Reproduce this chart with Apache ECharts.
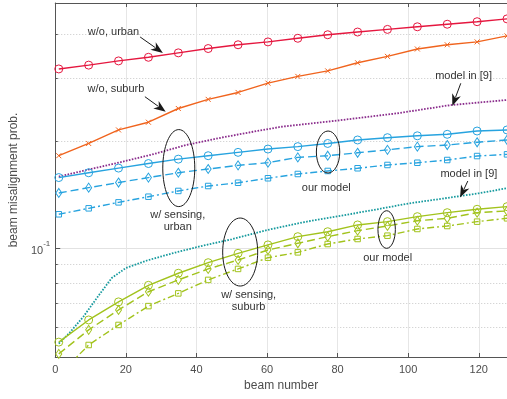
<!DOCTYPE html>
<html><head><meta charset="utf-8">
<script src="https://cdn.jsdelivr.net/npm/echarts@6/dist/echarts.min.js"></script>
<style>html,body{margin:0;padding:0;background:#fff}#c{width:507px;height:399px}</style>
</head><body><div id="c"></div>
<script>
// ---- data ----
const beams = [1, 9.47, 17.93, 26.4, 34.87, 43.33, 51.8, 60.27, 68.73, 77.2, 85.67, 94.13, 102.6, 111.07, 119.53, 128];
const woUrban  = [0.319,0.327,0.336,0.344,0.354,0.364,0.373,0.380,0.389,0.398,0.405,0.412,0.419,0.426,0.433,0.441];
const woSuburb = [0.182,0.197,0.215,0.226,0.247,0.262,0.274,0.291,0.304,0.315,0.332,0.346,0.363,0.373,0.380,0.395];
const ref9UrbanX = [1, 9, 19, 28, 37, 47, 56, 64, 80, 97, 112, 128];
const ref9Urban  = [0.159,0.166,0.175,0.184,0.195,0.2045,0.2125,0.2195,0.2285,0.2395,0.2525,0.261];
const urbanC = [0.158,0.163,0.168,0.173,0.178,0.182,0.186,0.190,0.193,0.197,0.2015,0.2045,0.207,0.209,0.2135,0.215];
const urbanD = [0.143,0.148,0.153,0.158,0.163,0.167,0.171,0.174,0.180,0.182,0.1855,0.189,0.193,0.195,0.1985,0.2015];
const urbanS = [0.1246,0.1295,0.1346,0.1396,0.1449,0.1496,0.1528,0.1573,0.1617,0.1649,0.1678,0.1714,0.1739,0.177,0.1816,0.1836];
const ref9SuburbX = [1,4,8,12,16,20,26,34,42,50,60,70,80,90,100,110,120,128];
const ref9Suburb  = [0.054,0.0578,0.0643,0.073,0.0825,0.088,0.0924,0.0973,0.1018,0.106,0.1125,0.1182,0.123,0.128,0.1336,0.138,0.1427,0.1475];
const suburbC = [0.0545,0.0629,0.0707,0.0787,0.0851,0.0911,0.0968,0.1022,0.1078,0.1113,0.1163,0.1188,0.1227,0.1259,0.1287,0.1309];
const suburbD = [0.0505,0.059,0.0671,0.0755,0.0815,0.0875,0.0927,0.0989,0.1033,0.1078,0.1121,0.1155,0.1195,0.1214,0.1259,0.1273];
const suburbS = [0.044,0.0535,0.0609,0.0688,0.0747,0.0815,0.0875,0.0941,0.0974,0.1028,0.1062,0.1085,0.1133,0.1155,0.1188,0.1214];
const xTicks = [0,20,40,60,80,100,120];
const yMajor = [0.1];
const yMinor = [0.06,0.07,0.08,0.09,0.2,0.3,0.4];
const xLabel = 'beam number';
const yLabel = 'beam misalignment prob.';

const FONT = '"Liberation Sans", Arial, Helvetica, sans-serif';
const AX = '#555';
const RED='#e5173f', ORANGE='#f0641e', PURPLE='#8a2c8c', BLUE='#27a3df', TEAL='#169a9e', GREEN='#a2c31d';
const XSYM = 'path://M0,0L10,10M10,0L0,10';

function mk(xs, ys, color, type, width, symbol, size, z) {
  return {
    type:'line', data: xs.map((x,i)=>[x, ys[i]]), clip:true,
    lineStyle:{color, width, type}, symbol: symbol || 'none', symbolSize: size,
    showSymbol: !!symbol, itemStyle:{color:'rgba(0,0,0,0)', borderColor:color, borderWidth:1},
    emphasis:{disabled:true}, silent:true, animation:false, z: z||2
  };
}

const chart = echarts.init(document.getElementById('c'), null, {renderer:'canvas'});
const yMin = 0.0495, yMax = 0.4887;
chart.setOption({
  backgroundColor:'#fff',
  animation:false,
  grid:{left:52.3, right:-1.5, top:3, bottom:42, containLabel:false},
  xAxis:[{
    type:'value', min:0, max:128, position:'bottom',
    axisLine:{show:true, onZero:false, lineStyle:{color:AX}},
    axisTick:{show:true, inside:true, length:4, customValues:xTicks, lineStyle:{color:AX}},
    axisLabel:{customValues:xTicks, color:'#4d4d4d', fontSize:11, fontFamily:FONT, margin:7},
    splitLine:{show:true, lineStyle:{color:'#e6e6e6', width:1}},
    name:xLabel, nameLocation:'middle', nameGap:20,
    nameTextStyle:{color:'#4d4d4d', fontSize:12, fontFamily:FONT}
  },{
    type:'value', min:0, max:128, position:'top',
    axisLine:{show:true, onZero:false, lineStyle:{color:AX}},
    axisTick:{show:true, inside:true, length:4, customValues:xTicks, lineStyle:{color:AX}},
    axisLabel:{show:false}, splitLine:{show:false}
  }],
  yAxis:[{
    type:'log', logBase:10, min:yMin, max:yMax, position:'left',
    axisLine:{show:true, onZero:false, lineStyle:{color:AX}},
    axisTick:{show:true, inside:true, length:5, customValues:yMajor, lineStyle:{color:AX}},
    axisLabel:{customValues:yMajor, margin:5, formatter:()=>'{a|10}{b|-1}',
      rich:{a:{fontSize:11, fontFamily:FONT, color:'#4d4d4d', lineHeight:16, verticalAlign:'bottom'},
            b:{fontSize:8, fontFamily:FONT, color:'#4d4d4d', verticalAlign:'top'}}},
    splitLine:{show:true, lineStyle:{color:'#e2e2e2', width:1}},
    name:yLabel, nameLocation:'middle', nameGap:26.5,
    nameTextStyle:{color:'#4d4d4d', fontSize:12, fontFamily:FONT}
  },{
    type:'log', logBase:10, min:yMin, max:yMax, position:'left',
    axisLine:{show:false},
    axisTick:{show:true, inside:true, length:2.5, customValues:yMinor, lineStyle:{color:AX}},
    axisLabel:{show:false},
    splitLine:{show:true, lineStyle:{color:'#c8c8c8', width:1, type:[1,2]}}
  }],
  series:[
    mk(beams, woUrban, RED, 'solid', 1.4, 'circle', 8, 5),
    mk(beams, woSuburb, ORANGE, 'solid', 1.4, XSYM, 5, 5),
    mk(ref9UrbanX, ref9Urban, PURPLE, [1.6,1.4], 1.8, null, 0, 4),
    mk(beams, urbanC, BLUE, 'solid', 1.4, 'circle', 8, 5),
    mk(beams, urbanD, BLUE, [8,4], 1.4, 'diamond', [6,9], 5),
    mk(beams, urbanS, BLUE, [7,3,2,3], 1.4, 'rect', 5.5, 5),
    mk(ref9SuburbX, ref9Suburb, TEAL, [1.6,1.4], 1.8, null, 0, 4),
    mk(beams, suburbC, GREEN, 'solid', 1.4, 'circle', 8, 5),
    mk(beams, suburbD, GREEN, [8,4], 1.4, 'diamond', [6,9], 5),
    mk(beams, suburbS, GREEN, [7,3,2,3], 1.4, 'rect', 5.5, 5)
  ]
});

// ---- annotations anchored in data coordinates ----
const annText = [
  {t:'w/o, urban', x:16.5, v:0.406},
  {t:'w/o, suburb', x:17.2, v:0.2797},
  {t:'w/ sensing,\nurban', x:34.7, v:0.1193},
  {t:'our model', x:76.8, v:0.1474},
  {t:'model in [9]', x:115.7, v:0.3048},
  {t:'model in [9]', x:117.2, v:0.1617},
  {t:'w/ sensing,\nsuburb', x:54.8, v:0.0711},
  {t:'our model', x:94.2, v:0.0937}
];
const annEllipse = [
  {x:35.0, v:0.168, rx:16, ry:38.5},
  {x:77.3, v:0.1864, rx:11.7, ry:21},
  {x:52.4, v:0.0976, rx:17.5, ry:34},
  {x:93.9, v:0.1129, rx:8.7, ry:18.8}
];
const annArrow = [
  {x1:24.05, v1:0.3923, x2:30.5, v2:0.3537},
  {x1:25.4, v1:0.2666, x2:31.3, v2:0.2419},
  {x1:114.9, v1:0.2907, x2:112.5, v2:0.2510},
  {x1:116.9, v1:0.1545, x2:114.7, v2:0.139}
];
const px = (x,v)=>chart.convertToPixel({xAxisIndex:0, yAxisIndex:0}, [x,v]);
const g = [];
annEllipse.forEach(e=>{
  const p = px(e.x,e.v);
  g.push({type:'ellipse', shape:{cx:p[0], cy:p[1], rx:e.rx, ry:e.ry}, style:{fill:'none', stroke:'#1a1a1a', lineWidth:1}, z:10, silent:true});
});
annArrow.forEach(a=>{
  const p1 = px(a.x1,a.v1), p2 = px(a.x2,a.v2);
  const dx=p2[0]-p1[0], dy=p2[1]-p1[1], L=Math.hypot(dx,dy), ux=dx/L, uy=dy/L;
  const hl=12, hw=4.6;
  const bx=p2[0]-ux*hl, by=p2[1]-uy*hl;
  g.push({type:'line', shape:{x1:p1[0], y1:p1[1], x2:bx+ux*3, y2:by+uy*3}, style:{stroke:'#1a1a1a', lineWidth:1}, z:10, silent:true});
  g.push({type:'polygon', shape:{points:[[p2[0],p2[1]],[bx-uy*hw, by+ux*hw],[bx+ux*3.5,by+uy*3.5],[bx+uy*hw, by-ux*hw]]}, style:{fill:'#1a1a1a'}, z:10, silent:true});
});
annText.forEach(t=>{
  const p = px(t.x,t.v);
  g.push({type:'text', x:p[0], y:p[1], style:{text:t.t, fontSize:11, fontFamily:FONT, fill:'#333', align:'center', verticalAlign:'middle', lineHeight:12}, z:11, silent:true});
});
chart.setOption({graphic:g});
</script>
</body></html>
